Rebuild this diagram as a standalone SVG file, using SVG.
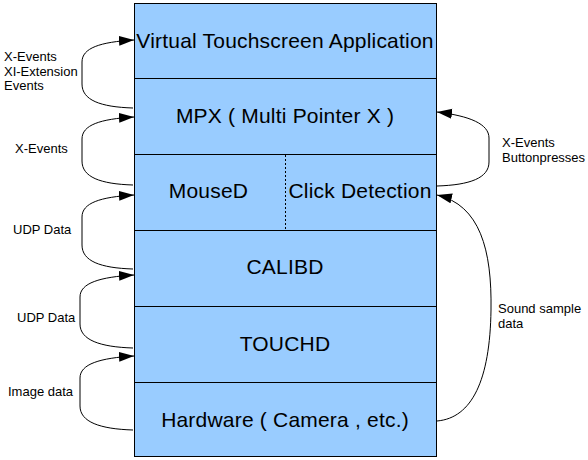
<svg xmlns="http://www.w3.org/2000/svg" width="588" height="460" viewBox="0 0 588 460">
<style>
.box{fill:#99ccff;stroke:#000;stroke-width:1}
.t{font-family:"Liberation Sans",Arial,sans-serif;font-size:21px;letter-spacing:0.2px;fill:#000;text-anchor:middle}
.l{font-family:"Liberation Sans",Arial,sans-serif;font-size:13px;fill:#000}
.c{fill:none;stroke:#000;stroke-width:1}
</style>
<defs>
<marker id="ah" markerUnits="userSpaceOnUse" markerWidth="16" markerHeight="12" refX="15" refY="5" orient="auto">
<path d="M0,0 L15,5 L0,10 Z" fill="#000"/>
</marker>
</defs>
<rect width="588" height="460" fill="#fff"/>
<g id="app">
<rect class="box" x="134.5" y="3.5" width="302" height="75"/>
<text class="t" x="285" y="48">Virtual Touchscreen Application</text>
</g>
<g id="mpx">
<rect class="box" x="134.5" y="78.5" width="302" height="76"/>
<text class="t" x="285" y="123">MPX ( Multi Pointer X )</text>
</g>
<g id="moused-click">
<rect class="box" x="134.5" y="154.5" width="302" height="76"/>
<line x1="285.5" y1="155" x2="285.5" y2="230" stroke="#000" stroke-width="1" stroke-dasharray="2,2"/>
<text class="t" x="208.5" y="198">MouseD</text>
<text class="t" x="360" y="198">Click Detection</text>
</g>
<g id="calibd">
<rect class="box" x="134.5" y="230.5" width="302" height="76"/>
<text class="t" x="285" y="274">CALIBD</text>
</g>
<g id="touchd">
<rect class="box" x="134.5" y="306.5" width="302" height="76"/>
<text class="t" x="285" y="351">TOUCHD</text>
</g>
<g id="hardware">
<rect class="box" x="134.5" y="382.5" width="302" height="74"/>
<text class="t" x="285" y="427">Hardware ( Camera , etc.)</text>
</g>
<g id="connectors">
<path class="c" marker-end="url(#ah)" d="M133,108 C100,107 82,100 82,84 L82,62 C82,48 100,42 134,40"/>
<path class="c" marker-end="url(#ah)" d="M133,185 C100,184 82,177 82,161 L82,139 C82,125 100,119 134,117"/>
<path class="c" marker-end="url(#ah)" d="M133,269 C100,268 82,261 82,245 L82,217 C82,203 100,197 134,195"/>
<path class="c" marker-end="url(#ah)" d="M133,348 C100,347 80,340 80,324 L80,297 C80,283 100,277 134,275"/>
<path class="c" marker-end="url(#ah)" d="M133,430 C100,429 80,422 80,406 L80,378 C80,364 100,358 134,356"/>
<path class="c" marker-end="url(#ah)" d="M437,186 C470,185 489,178 489,162 L489,138 C489,124 470,116 437,112"/>
<path class="c" marker-end="url(#ah)" d="M437,421 C472,418 490,380 491,310 C492,250 480,205 437,195"/>
</g>
<g id="labels">
<text class="l" x="4" y="61">X-Events</text>
<text class="l" x="4" y="76">XI-Extension</text>
<text class="l" x="4" y="90">Events</text>
<text class="l" x="15" y="153">X-Events</text>
<text class="l" x="13" y="234">UDP Data</text>
<text class="l" x="17" y="322">UDP Data</text>
<text class="l" x="8" y="396">Image data</text>
<text class="l" x="502" y="147">X-Events</text>
<text class="l" x="502" y="162">Buttonpresses</text>
<text class="l" x="498" y="313">Sound sample</text>
<text class="l" x="498" y="328">data</text>
</g>
</svg>
